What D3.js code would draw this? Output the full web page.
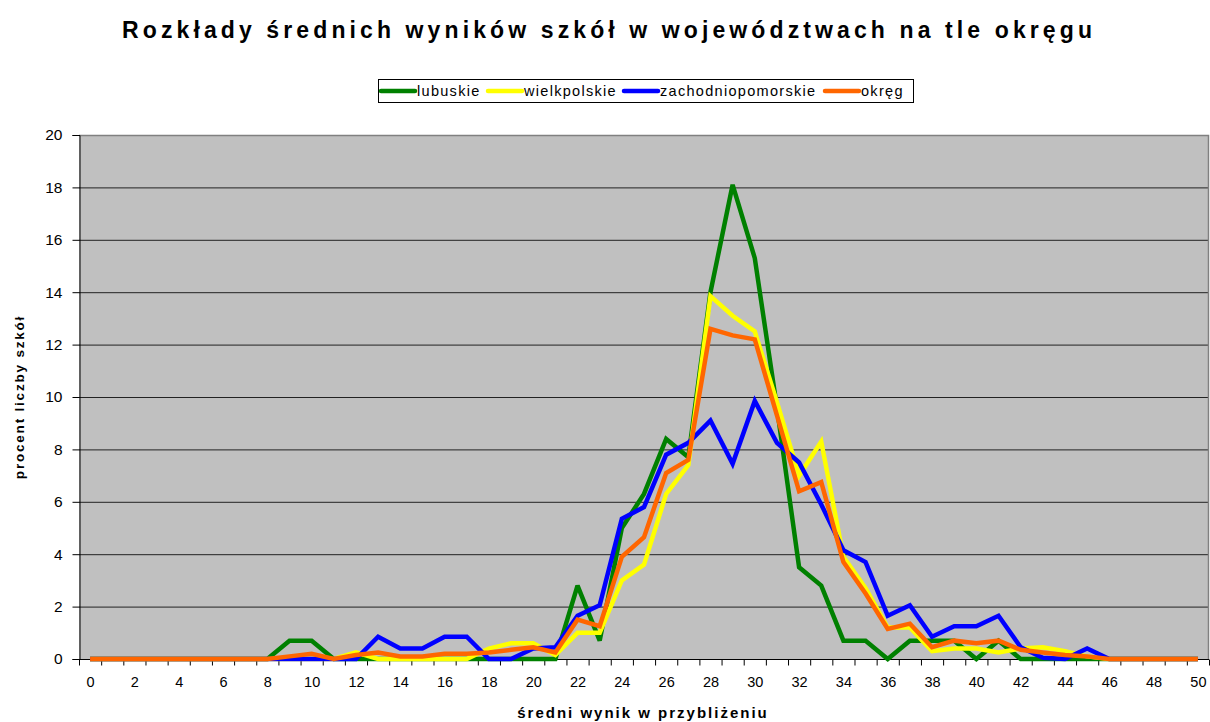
<!DOCTYPE html>
<html>
<head>
<meta charset="utf-8">
<script src="https://cdn.jsdelivr.net/npm/d3@7/dist/d3.min.js"></script>
<style>
  html, body { margin: 0; padding: 0; background: #fff; }
  svg { display: block; font-family: "Liberation Sans", Arial, sans-serif; }
</style>
</head>
<body>
<svg id="chart" width="1210" height="722"></svg>
<script>
const categories = d3.range(0, 51);
const seriesNames = ["lubuskie", "wielkpolskie", "zachodniopomorskie", "okręg"];
const seriesColors = ["#008000", "#FFFF00", "#0000FF", "#FF6600"];

const lubuskie = [0,0,0,0,0,0,0,0,0,0.7,0.7,0,0,0,0,0,0,0,0,0,0,0,2.8,0.7,5.0,6.3,8.4,7.7,14.0,18.1,15.3,9.6,3.5,2.8,0.7,0.7,0,0.7,0.7,0.7,0,0.7,0,0,0,0,0,0,0,0,0];
const wielkpolskie = [0,0,0,0,0,0,0,0,0,0,0,0,0.25,0,0,0,0,0,0.4,0.6,0.6,0.15,1.0,1.0,3.0,3.6,6.3,7.4,13.85,13.1,12.5,9.8,7.0,8.3,3.9,2.7,1.2,1.2,0.3,0.4,0.4,0.25,0.4,0.45,0.3,0.1,0,0,0,0,0];
const zachodniopomorskie = [0,0,0,0,0,0,0,0,0,0,0,0,0,0.85,0.4,0.4,0.85,0.85,0,0,0.4,0.45,1.65,2.05,5.35,5.8,7.8,8.25,9.1,7.45,9.85,8.25,7.5,5.9,4.15,3.7,1.65,2.05,0.85,1.25,1.25,1.65,0.45,0.05,0,0.4,0,0,0,0,0];
const okreg = [0,0,0,0,0,0,0,0,0,0.1,0.2,0,0.15,0.25,0.1,0.1,0.2,0.2,0.25,0.35,0.45,0.25,1.5,1.25,3.9,4.65,7.1,7.6,12.6,12.35,12.2,9.3,6.4,6.75,3.7,2.5,1.15,1.35,0.45,0.7,0.6,0.7,0.35,0.25,0.15,0.1,0,0,0,0,0];
const yTicks = [0,2,4,6,8,10,12,14,16,18,20];
const xTickLabels = d3.range(0, 51, 2);

const titleText = "Rozkłady średnich wyników szkół w województwach na tle okręgu";
const xTitle = "średni wynik w przybliżeniu";
const yTitle = "procent liczby szkół";

const allSeries = [lubuskie, wielkpolskie, zachodniopomorskie, okreg];

const svg = d3.select("#chart");
const L = 79, R = 1209, T = 135, B = 659;

const x = d3.scalePoint().domain(categories).range([L, R]).padding(0.5);
const xb = d3.scaleLinear().domain([-0.5, 50.5]).range([L, R]);
const y = d3.scaleLinear().domain([0, 20]).range([B, T]);

// plot background
svg.append("rect").attr("x", L).attr("y", T).attr("width", R - L).attr("height", B - T)
  .attr("fill", "#C0C0C0");

// grid lines
svg.append("g").selectAll("line").data(yTicks.filter(d => d > 0 && d < 20)).join("line")
  .attr("x1", L).attr("x2", R).attr("y1", d => y(d) + 0.5).attr("y2", d => y(d) + 0.5)
  .attr("stroke", "#222").attr("stroke-width", 1);

// plot border top/right
svg.append("path").attr("d", `M${L},${T + 0.5}H${R - 0.5}V${B}`)
  .attr("fill", "none").attr("stroke", "#808080").attr("stroke-width", 1.5);

// y axis
const yAxis = svg.append("g").attr("transform", `translate(${L + 0.5},0)`)
  .call(d3.axisLeft(y).tickValues(yTicks).tickSize(7).tickPadding(10));
yAxis.select(".domain").attr("stroke", "#000");
yAxis.selectAll(".tick line").attr("stroke", "#000");
yAxis.selectAll(".tick text").attr("font-size", 15.5).attr("fill", "#000")
  .attr("font-family", "'Liberation Sans', Arial, sans-serif");

// x axis: tick marks at category boundaries
const xAxisTicks = svg.append("g").attr("transform", `translate(0,${B + 0.5})`)
  .call(d3.axisBottom(xb).tickValues(d3.range(-0.5, 51, 1)).tickSize(6).tickFormat(""));
xAxisTicks.select(".domain").attr("stroke", "#000").attr("d", `M${L},0H${R}`);
xAxisTicks.selectAll(".tick line").attr("stroke", "#000");

// x axis labels
const xAxisLabels = svg.append("g").attr("transform", `translate(0,${B})`)
  .call(d3.axisBottom(x).tickValues(xTickLabels).tickSize(0).tickPadding(18));
xAxisLabels.select(".domain").remove();
xAxisLabels.selectAll(".tick text").attr("font-size", 14.5).attr("fill", "#000")
  .attr("font-family", "'Liberation Sans', Arial, sans-serif");

// lines
const line = d3.line().x((d, i) => x(categories[i])).y(d => y(d));
svg.append("g").selectAll("path").data(allSeries).join("path")
  .attr("d", d => line(d))
  .attr("fill", "none")
  .attr("stroke", (d, i) => seriesColors[i])
  .attr("stroke-width", 4.5)
  .attr("stroke-linejoin", "miter")
  .attr("stroke-miterlimit", 3);

// title
svg.append("text").attr("x", 607).attr("y", 38).attr("text-anchor", "middle")
  .attr("font-size", 23).attr("font-weight", "bold")
  .attr("textLength", 970).attr("lengthAdjust", "spacing")
  .text(titleText);

// axis titles
svg.append("text").attr("x", 643).attr("y", 718).attr("text-anchor", "middle")
  .attr("font-size", 15).attr("font-weight", "bold").attr("letter-spacing", 2)
  .text(xTitle);
svg.append("text").attr("transform", "translate(24,397) rotate(-90)")
  .attr("text-anchor", "middle").attr("font-size", 13.5).attr("font-weight", "bold")
  .attr("letter-spacing", 1.8)
  .text(yTitle);

// legend
const legend = svg.append("g");
legend.append("rect").attr("x", 378.5).attr("y", 79.5).attr("width", 535).attr("height", 23)
  .attr("fill", "#fff").attr("stroke", "#000").attr("stroke-width", 1);
const legendX = [381, 488, 624, 825];
seriesNames.forEach((name, i) => {
  const g = legend.append("g").attr("transform", `translate(${legendX[i]},91)`);
  g.append("line").attr("x1", 0).attr("x2", 34).attr("y1", 0).attr("y2", 0)
    .attr("stroke", seriesColors[i]).attr("stroke-width", 4.5).attr("stroke-linecap", "round");
  g.append("text").attr("x", 36).attr("y", 5).attr("font-size", 14.5).attr("fill", "#000")
    .attr("letter-spacing", 1.3)
    .text(name);
});
</script>
</body>
</html>
